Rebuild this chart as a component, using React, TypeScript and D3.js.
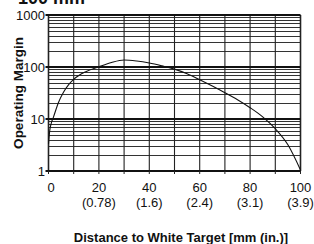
import { scaleLinear, scaleLog, line as d3_line, curveMonotoneX, range } from "d3"

const distance = [0, 0.5, 1, 2, 4, 6, 8, 10, 15, 20, 25, 30, 35, 40, 45, 50, 55, 60, 65, 70, 75, 80, 85, 90, 95, 100]
const margin = [3.3, 6, 8, 11, 21, 33, 46, 58, 82, 101, 122, 136, 130, 119, 105, 91, 74, 57, 43, 32, 23.5, 16.5, 11, 6.5, 3.2, 1.05]

const xTicks = [0, 20, 40, 60, 80, 100]
const xTickInches = ["", "(0.78)", "(1.6)", "(2.4)", "(3.1)", "(3.9)"]
const yTicks = [1, 10, 100, 1000]

export default function App() {
  const x = scaleLinear().domain([0, 100]).range([48.5, 300.5])
  const y = scaleLog().domain([1, 1000]).range([171, 15])

  const minor = yTicks.slice(0, -1).flatMap((d) => range(2, 10).map((k) => d * k))
  const pts = distance.map((d, i) => ({ d, v: margin[i] }))
  const path = d3_line<{ d: number; v: number }>()
    .x((p) => x(p.d))
    .y((p) => y(p.v))
    .curve(curveMonotoneX)(pts)

  return (
    <svg
      width={314}
      height={244}
      style={{ position: "absolute", left: 0, top: 0, background: "#fff" }}
      fontFamily="'Liberation Sans', Arial, sans-serif"
    >
      <text x={18} y={3.5} fontSize={18} fontWeight="bold" fill="#111">100 mm</text>

      {/* minor log lines */}
      {minor.map((v) => (
        <line key={v} x1={x(0)} x2={x(100)} y1={Math.round(y(v)) + 0.5} y2={Math.round(y(v)) + 0.5} stroke="#333" strokeWidth={1} />
      ))}
      {/* vertical grid */}
      {range(0, 101, 10).map((d) => (
        <line key={d} x1={x(d)} x2={x(d)} y1={y(1000)} y2={y(1)} stroke="#222" strokeWidth={d === 0 || d === 100 ? 1.6 : 1.1} />
      ))}
      {/* decade lines */}
      {yTicks.map((v) => (
        <line key={v} x1={x(0) - 3} x2={x(100)} y1={y(v)} y2={y(v)} stroke="#111" strokeWidth={v === 1 ? 2 : 1.8} />
      ))}
      {/* x tick marks */}
      {range(0, 101, 10).map((d) => (
        <line key={"t" + d} x1={x(d)} x2={x(d)} y1={y(1)} y2={y(1) + 3} stroke="#222" strokeWidth={1} />
      ))}

      <path d={path ?? ""} fill="none" stroke="#111" strokeWidth={1.1} />

      {yTicks.map((v) => (
        <text key={v} x={45} y={y(v) + 4.5} textAnchor="end" fontSize={13} fontFamily="'Liberation Sans Narrow', 'Arial Narrow', sans-serif" fill="#111">
          {v}
        </text>
      ))}
      {xTicks.map((d, i) => (
        <g key={d}>
          <text x={d === 0 ? x(d) + 2.5 : x(d)} y={191.5} textAnchor="middle" fontSize={13} fill="#111">{d}</text>
          <text x={x(d)} y={207} textAnchor="middle" fontSize={13} fill="#111">{xTickInches[i]}</text>
        </g>
      ))}

      <text transform="translate(23,93) rotate(-90)" textAnchor="middle" fontSize={13.5} fontWeight="bold" fill="#111">
        Operating Margin
      </text>
      <text x={181} y={241.5} textAnchor="middle" fontSize={13} fontWeight="bold" fill="#111">
        Distance to White Target [mm (in.)]
      </text>
    </svg>
  )
}
